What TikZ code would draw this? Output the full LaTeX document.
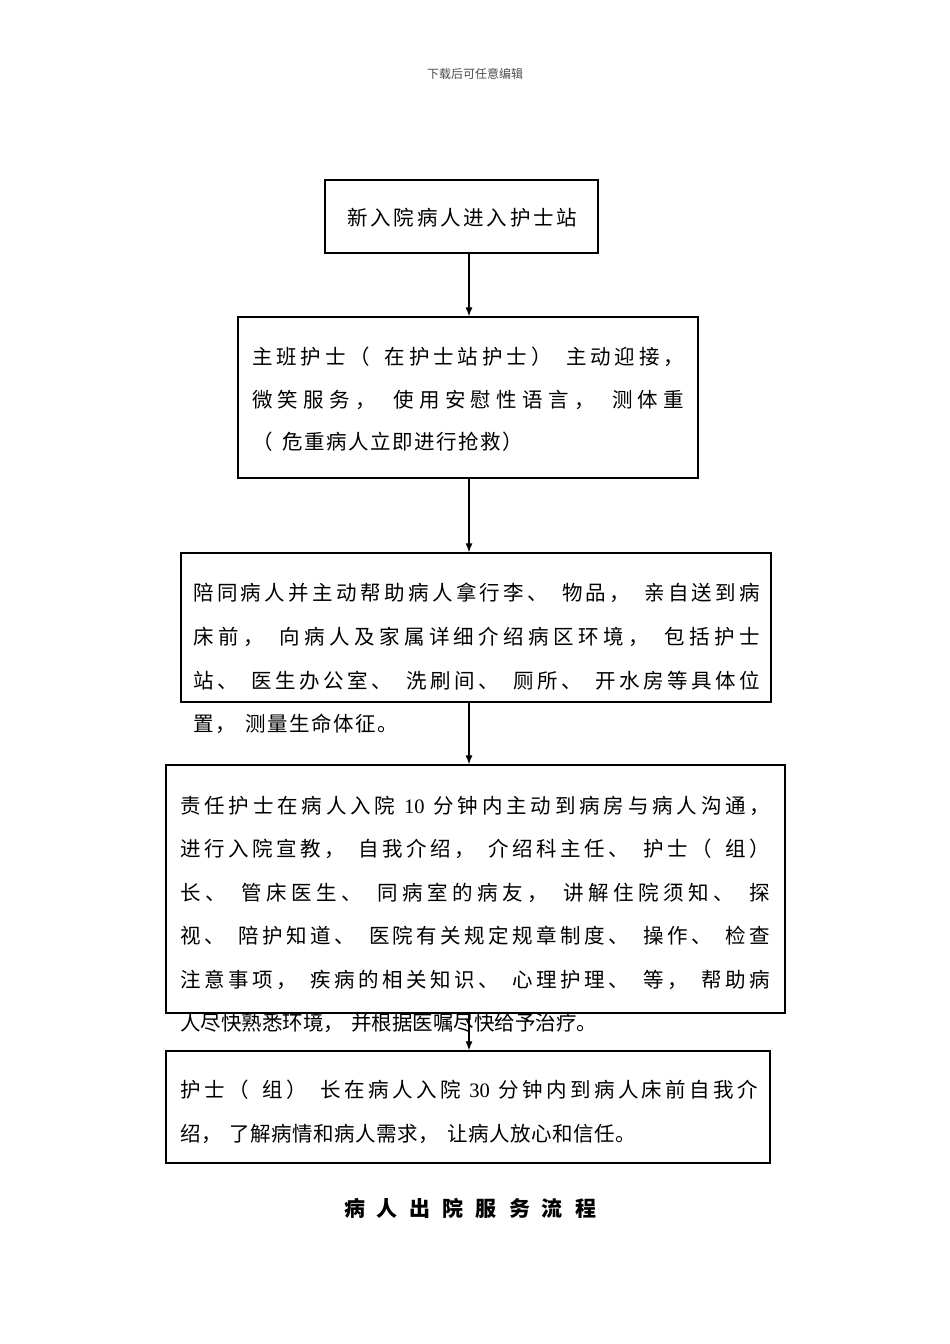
\documentclass[tikz,border=0pt]{standalone}
\usepackage{fontspec}
\setmainfont{Noto Sans CJK SC}
\newfontfamily\lat{Liberation Serif}
\usetikzlibrary{arrows.meta}
\makeatletter
\newcommand\spreadline[2]{\makebox[#1][s]{\@tfor\zz:=#2\do{{\zz}\hfil}\unskip}}
\newcommand\gapline[2]{\@tfor\zz:=#2\do{{\zz}\kern#1}\unkern}
\makeatother
\newcommand\s{\kern7pt}
\tikzset{
  box/.style={draw, line width=1.3pt, inner sep=0, fill=none},
  ln/.style={anchor=base west, inner sep=0, font=\fontsize{20.5}{24}\selectfont},
  arr/.style={line width=1.2pt, -{Latex[length=9pt,width=7pt]}}
}
\begin{document}
\begin{tikzpicture}[x=1pt,y=-1pt]
\useasboundingbox (0,0) rectangle (950,1344);
\fill[white] (0,0) rectangle (950,1344);
% header
\node[inner sep=0, text=black!70, font=\fontsize{12}{14}\selectfont] (hdr) at (475,74) {下载后可任意编辑};
% box 1 text
\node[ln] (t1) at (347,225) {\gapline{2.8pt}{新入院病人进入护士站}};
% box 2 text
\node[ln] (t2a) at (252,364) {\spreadline{432pt}{主班护士（\s 在护士站护士）\s 主动迎接，}};
\node[ln] (t2b) at (252,407) {\spreadline{432pt}{微笑服务，\s 使用安慰性语言，\s 测体重}};
\node[ln] (t2c) at (252,449) {\gapline{1.5pt}{（\s 危重病人立即进行抢救）}};
% box 3 text
\node[ln] (t3a) at (193,600) {\spreadline{567pt}{陪同病人并主动帮助病人拿行李、\s 物品，\s 亲自送到病}};
\node[ln] (t3b) at (193,644) {\spreadline{567pt}{床前，\s 向病人及家属详细介绍病区环境，\s 包括护士}};
\node[ln] (t3c) at (193,688) {\spreadline{567pt}{站、\s 医生办公室、\s 洗刷间、\s 厕所、\s 开水房等具体位}};
\node[ln] (t3d) at (193,731) {\gapline{1.5pt}{置，\s 测量生命体征。}};
% box 4 text
\node[ln] (t4a) at (180,813) {\spreadline{590pt}{责任护士在病人入院{\lat\ 10\ }分钟内主动到病房与病人沟通，}};
\node[ln] (t4b) at (180,856) {\spreadline{590pt}{进行入院宣教，\s 自我介绍，\s 介绍科主任、\s 护士（\s 组）}};
\node[ln] (t4c) at (180,900) {\spreadline{590pt}{长、\s 管床医生、\s 同病室的病友，\s 讲解住院须知、\s 探}};
\node[ln] (t4d) at (180,943) {\spreadline{590pt}{视、\s 陪护知道、\s 医院有关规定规章制度、\s 操作、\s 检查}};
\node[ln] (t4e) at (180,987) {\spreadline{590pt}{注意事项，\s 疾病的相关知识、\s 心理护理、\s 等，\s 帮助病}};
\node[ln] (t4f) at (180,1030) {\gapline{0pt}{人尽快熟悉环境，\s 并根据医嘱尽快给予治疗。}};
% box 5 text
\node[ln] (t5a) at (180,1097) {\spreadline{578pt}{护士（\s 组）\s 长在病人入院{\lat\ 30\ }分钟内到病人床前自我介}};
\node[ln] (t5b) at (180,1141) {\gapline{0.5pt}{绍，\s 了解病情和病人需求，\s 让病人放心和信任。}};
% title
\node[inner sep=0, font=\fontsize{21}{26}\selectfont\bfseries] (title) at (470,1208) {\gapline{12pt}{病人出院服务流程}};
% boxes
\node[box, minimum width=273pt, minimum height=73pt] (b1) at (461.5,216.5) {};
\node[box, minimum width=460pt, minimum height=161pt] (b2) at (468,397.5) {};
\node[box, minimum width=590pt, minimum height=149pt] (b3) at (476,627.5) {};
\node[box, minimum width=619pt, minimum height=248pt] (b4) at (475.5,889) {};
\node[box, minimum width=604pt, minimum height=112pt] (b5) at (468,1107) {};
% arrows
\coordinate (ax) at (469,0);
\draw[arr] (b1.south -| ax) -- (b2.north -| ax);
\draw[arr] (b2.south -| ax) -- (b3.north -| ax);
\draw[arr] (b3.south -| ax) -- (b4.north -| ax);
\draw[arr] (b4.south -| ax) -- (b5.north -| ax);
\end{tikzpicture}
\end{document}
